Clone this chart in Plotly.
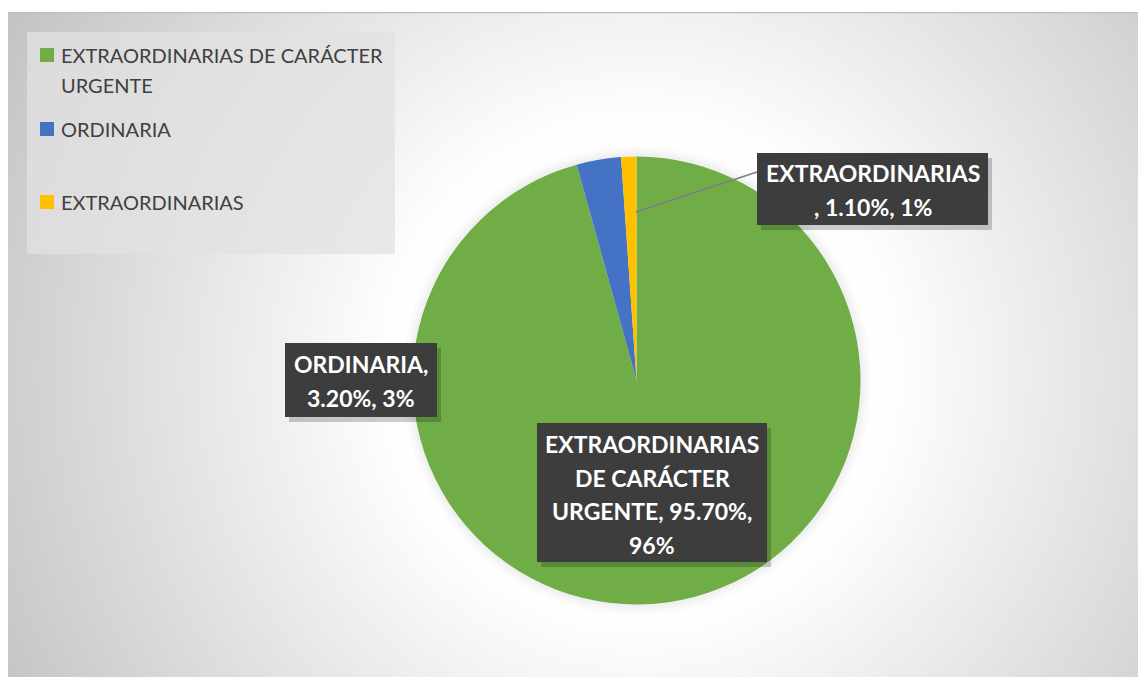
import plotly.graph_objects as go

# ---- data ----
labels = ["EXTRAORDINARIAS DE CARÁCTER URGENTE", "ORDINARIA", "EXTRAORDINARIAS"]
percents = [95.7, 3.2, 1.1]
colors = ["#70AD47", "#4472C4", "#FFC000"]

# ---- geometry (page pixels; the page body adds an 8px offset) ----
OFF = 8
PAGE_W, PAGE_H = 1146, 677
L, T = 8, 12                      # chart area top-left on the page
W, H = PAGE_W - OFF, PAGE_H - OFF  # figure size
PW, PH = PAGE_W - L, PAGE_H - T
cx, cy, R = 636.5, 380.5, 224.0   # pie centre / radius (page pixels)

def dom_x(a, b):
    return [(a - L) / PW, (b - L) / PW]

def dom_y(top, bottom):
    return [(PAGE_H - bottom) / PH, (PAGE_H - top) / PH]

fig = go.Figure()
fig.add_trace(go.Pie(
    labels=labels, values=percents, sort=False, direction="clockwise",
    rotation=0, marker=dict(colors=colors, line=dict(width=0)),
    textinfo="none", hoverinfo="label+percent", showlegend=False,
    domain=dict(x=dom_x(cx - R, cx + R), y=dom_y(cy - R, cy + R)),
))

shapes = []
# background radial gradient
shapes.append(dict(type="rect", xref="x", yref="y", x0=L, x1=PAGE_W, y0=T, y1=PAGE_H,
                   fillcolor="#c4c4c4", line=dict(width=0), layer="below"))
gx, gy = 640, 372
r_in, r_out = 250.0, 720.0
c_in, c_out = 255, 196
r = 760.0
while r >= r_in - 1:
    t = min(1.0, max(0.0, (r - r_in) / (r_out - r_in)))
    v = int(round(c_in + (c_out - c_in) * t))
    shapes.append(dict(type="circle", xref="x", yref="y",
                       x0=gx - r, x1=gx + r, y0=gy - r, y1=gy + r,
                       fillcolor=f"rgb({v},{v},{v})", line=dict(width=0), layer="below"))
    r -= 8
# very soft halo behind pie
for dr, v in [(10, 250), (6, 245), (3, 240)]:
    shapes.append(dict(type="circle", xref="x", yref="y",
                       x0=cx - R - dr, x1=cx + R + dr, y0=cy - R - dr, y1=cy + R + dr,
                       fillcolor=f"rgb({v},{v},{v})", line=dict(width=0), layer="below"))
# top edge line
shapes.append(dict(type="line", xref="x", yref="y", x0=L, x1=PAGE_W, y0=T + 0.5, y1=T + 0.5,
                   line=dict(color="#bdbdbd", width=1.5), layer="below"))

# legend background
shapes.append(dict(type="rect", xref="x", yref="y", x0=27, x1=395, y0=32, y1=254,
                   fillcolor="rgba(226,226,226,0.75)", line=dict(width=0), layer="below"))

annotations = []
# manual legend
legend_rows = [(55, [labels[0][:27], labels[0][28:]]), (129, [labels[1]]), (202, [labels[2]])]
for (yy, lines), col in zip(legend_rows, colors):
    shapes.append(dict(type="rect", xref="x", yref="y", x0=40, x1=54, y0=yy - 7, y1=yy + 7,
                       fillcolor=col, line=dict(width=0), layer="above"))
    for k, ln in enumerate(lines):
        annotations.append(dict(x=59, y=yy + 30 * k, xref="x", yref="y", text=ln,
                                showarrow=False, xanchor="left", yanchor="middle",
                                font=dict(family="Lato", size=20, color="#404040")))

# data label boxes
def pct_parts(p):
    return f"{p:.2f}%", f"{round(p):.0f}%"

g1, g2 = pct_parts(percents[0])
o1, o2 = pct_parts(percents[1])
e1, e2 = pct_parts(percents[2])
label_boxes = [
    (537, 767, 423, 562, [444, 478, 511, 545],
     ["EXTRAORDINARIAS", "DE CARÁCTER", f"URGENTE, {g1},", g2]),
    (285, 437, 343, 417, [364, 398], [f"{labels[1]},", f"{o1}, {o2}"]),
    (757, 988, 153, 225, [173, 207], [labels[2], f", {e1}, {e2}"]),
]

# leader line for the small slice
shapes.append(dict(type="line", xref="x", yref="y", x0=636, y0=212, x1=757, y1=172,
                   line=dict(color="#7f7f7f", width=1.5), layer="above"))

for x0, x1, y0, y1, ys, lines in label_boxes:
    shapes.append(dict(type="rect", xref="x", yref="y", x0=x0 + 4, x1=x1 + 4, y0=y0 + 5, y1=y1 + 5,
                       fillcolor="rgba(0,0,0,0.2)", line=dict(width=0), layer="above"))
    shapes.append(dict(type="rect", xref="x", yref="y", x0=x0, x1=x1, y0=y0, y1=y1,
                       fillcolor="#3d3d3d", line=dict(width=0), layer="above"))
    for yy, ln in zip(ys, lines):
        annotations.append(dict(x=(x0 + x1) / 2, y=yy, xref="x", yref="y", text=ln,
                                showarrow=False, xanchor="center", yanchor="middle",
                                font=dict(family="Lato", size=23, color="white", weight="bold")))

fig.update_layout(
    width=W, height=H,
    margin=dict(l=L - OFF, r=0, t=T - OFF, b=0, pad=0),
    paper_bgcolor="white", plot_bgcolor="white",
    xaxis=dict(range=[L, PAGE_W], visible=False, fixedrange=True),
    yaxis=dict(range=[PAGE_H, T], visible=False, fixedrange=True),
    shapes=shapes, annotations=annotations, showlegend=False,
)
fig.write_html("out.html")
